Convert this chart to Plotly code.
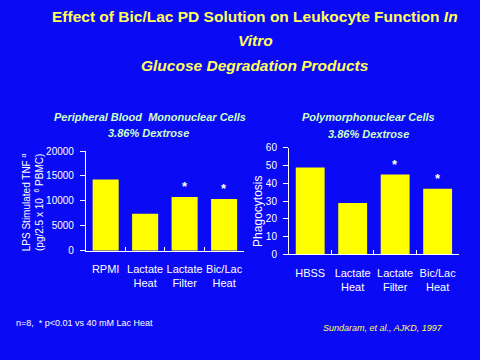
import plotly.graph_objects as go

# ---- data ----
pbmc_categories = ["RPMI", "Lactate<br>Heat", "Lactate<br>Filter", "Bic/Lac<br>Heat"]
pbmc_tnf = [14300, 7400, 10800, 10400]
pbmc_sig = [False, False, True, True]

pmn_categories = ["HBSS", "Lactate<br>Heat", "Lactate<br>Filter", "Bic/Lac<br>Heat"]
pmn_phago = [49, 29, 45, 37]
pmn_sig = [False, False, True, True]

pbmc_yticks = [0, 5000, 10000, 15000, 20000]
pmn_yticks = [0, 10, 20, 30, 40, 50, 60]

BG = "#0A0AF5"
YEL = "#FFFF00"
TITLE_YEL = "#FFFF55"
SUB = "#CCFFCC"
WHITE = "#FFFFFF"
FONT = "Liberation Sans, Arial, sans-serif"

fig = go.Figure()
fig.add_trace(go.Bar(x=pbmc_categories, y=pbmc_tnf, marker=dict(color=YEL, line=dict(width=0)),
                     width=0.66, xaxis="x", yaxis="y", showlegend=False))
fig.add_trace(go.Bar(x=pmn_categories, y=pmn_phago, marker=dict(color=YEL, line=dict(width=0)),
                     width=0.68, xaxis="x2", yaxis="y2", showlegend=False))

axis_common = dict(showline=True, linecolor=WHITE, linewidth=1, showgrid=False, zeroline=False,
                   tickcolor=WHITE)
xfont = dict(family=FONT, size=11, color=WHITE)
yfont = dict(family=FONT, size=10, color=WHITE)

fig.update_layout(
    width=480, height=360,
    margin=dict(l=0, r=0, t=0, b=0),
    paper_bgcolor=BG, plot_bgcolor=BG,
    font=dict(family=FONT, color=WHITE),
    xaxis=dict(domain=[0.179, 0.508], anchor="y", ticks="inside", ticklen=4, tickson="boundaries",
               tickangle=0, tickfont=xfont, ticklabelstandoff=8, **axis_common),
    yaxis=dict(domain=[0.297, 0.583], anchor="x", range=[0, 20000], tickvals=pbmc_yticks,
               tickformat="d", ticks="outside", ticklen=5, tickfont=yfont, ticklabelstandoff=4,
               **axis_common),
    xaxis2=dict(domain=[0.602, 0.956], anchor="y2", ticks="inside", ticklen=4, tickson="boundaries",
                tickangle=0, tickfont=xfont, ticklabelstandoff=8, **axis_common),
    yaxis2=dict(domain=[0.286, 0.592], anchor="x2", range=[0, 60], tickvals=pmn_yticks,
                tickformat="d", ticks="outside", ticklen=5, tickfont=yfont, ticklabelstandoff=4,
                **axis_common),
    bargap=0.34,
)

ann = []
# main title
ann.append(dict(x=0.532, y=11, text="<b>Effect of Bic/Lac PD Solution on Leukocyte Function <i>In</i></b>"))
ann.append(dict(x=0.533, y=36, text="<b><i>Vitro</i></b>"))
ann.append(dict(x=0.532, y=62, text="<b><i>Glucose Degradation Products</i></b>"))
for a in ann:
    a.update(xref="paper", yref="paper", showarrow=False, xanchor="center", yanchor="middle",
             font=dict(family=FONT, size=15.5, color=TITLE_YEL))
    a["y"] = 1 - a["y"] / 360

sub = [
    dict(x=150 / 480, y=115, text="<b><i>Peripheral Blood  Mononuclear Cells</i></b>"),
    dict(x=148 / 480, y=131, text="<b><i>3.86% Dextrose</i></b>"),
    dict(x=368 / 480, y=115, text="<b><i>Polymorphonuclear Cells</i></b>"),
    dict(x=368 / 480, y=132, text="<b><i>3.86% Dextrose</i></b>"),
]
for a in sub:
    a.update(xref="paper", yref="paper", showarrow=False, xanchor="center", yanchor="middle",
             font=dict(family=FONT, size=11, color=SUB))
    a["y"] = 1 - a["y"] / 360
ann += sub

# y axis titles
ann.append(dict(xref="paper", yref="paper", x=32 / 480, y=1 - 203 / 360, textangle=-90,
                text="LPS Stimulated TNF <sup>α</sup><br>(pg/2.5 x 10  <sup>6</sup> PBMC)",
                showarrow=False, xanchor="center", yanchor="middle",
                font=dict(family=FONT, size=10, color=WHITE)))
ann.append(dict(xref="paper", yref="paper", x=258 / 480, y=1 - 213 / 360, textangle=-90,
                text="Phagocytosis", showarrow=False, xanchor="center", yanchor="middle",
                font=dict(family=FONT, size=12, color=WHITE)))

# significance stars
for cat, val, s in zip(pbmc_categories, pbmc_tnf, pbmc_sig):
    if s:
        ann.append(dict(xref="x", yref="y", x=cat, y=val, yshift=1, text="<b>*</b>", showarrow=False,
                        yanchor="bottom", font=dict(family=FONT, size=13, color=WHITE)))
for cat, val, s in zip(pmn_categories, pmn_phago, pmn_sig):
    if s:
        ann.append(dict(xref="x2", yref="y2", x=cat, y=val, yshift=1, text="<b>*</b>", showarrow=False,
                        yanchor="bottom", font=dict(family=FONT, size=13, color=WHITE)))

# footers
ann.append(dict(xref="paper", yref="paper", x=14 / 480, y=1 - 328 / 360, xanchor="left", yanchor="middle",
                text="n=8,  * p<0.01 vs 40 mM Lac Heat", showarrow=False,
                font=dict(family=FONT, size=9, color=WHITE)))
ann.append(dict(xref="paper", yref="paper", x=445 / 480, y=1 - 333 / 360, xanchor="right", yanchor="middle",
                text="<i>Sundaram, et al., AJKD, 1997</i>", showarrow=False,
                font=dict(family=FONT, size=9, color=TITLE_YEL)))

fig.update_layout(annotations=ann)
fig.write_html("out.html", config={"displayModeBar": False},
               post_script="document.body.style.margin='0';document.body.style.background='" + BG + "';")
